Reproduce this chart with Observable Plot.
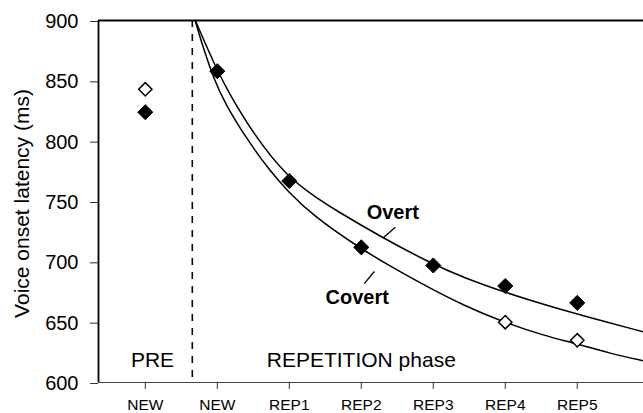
<!DOCTYPE html>
<html>
<head>
<meta charset="utf-8">
<script src="https://cdn.jsdelivr.net/npm/d3@7"></script>
<script src="https://cdn.jsdelivr.net/npm/@observablehq/plot@0.6"></script>
<style>
  html, body { margin: 0; padding: 0; background: #fff; }
  #chart svg { display: block; }
</style>
</head>
<body>
<div id="chart"></div>
<script>
// Block labels along the x axis: the pre-test block, then the repetition phase
const conditions = ["NEW", "NEW", "REP1", "REP2", "REP3", "REP4", "REP5"];

// Mean voice onset latencies (ms) per block
const overtRT = [824, 858, 767, 712, 697, 680, 666];
const covertRT = [843, null, null, null, null, 650, 635];

// Fitted practice curves, sampled along the block axis
const overtFitPos = [0.694, 0.833, 1.014, 1.153, 1.5, 1.972, 2.431, 2.639, 3.264, 3.958, 4.417, 5.028, 5.625, 6.222, 6.917];
const overtFitRT  = [900, 881, 857, 841, 806, 770, 751, 743, 721, 699, 687, 674, 663, 653, 642];
const covertFitPos = [0.694, 0.8, 0.95, 1.1, 1.417, 1.736, 1.972, 2.333, 2.986, 3.5, 3.958, 4.417, 4.972, 5.528, 6.0, 6.458, 6.917];
const covertFitRT  = [900, 878, 852, 832, 801, 775, 759, 738, 711, 693, 678, 664, 650, 639, 632, 624, 618];

// Phase names and y-axis ticks
const phaseNames = ["PRE", "REPETITION phase"];
const yTicks = [600, 650, 700, 750, 800, 850, 900];
const yTitle = "Voice onset latency (ms)";

// Layout / annotation placement (block units on x, ms on y)
const xDomain = [-0.65, 6.92];
const yDomain = [600, 900];
const phaseBoundary = 0.653;
const phaseCenters = [0.1, 3.0];
const curveLabels = [
  {text: "Overt", x: 3.438, y: 741, x1: 3.472, y1: 728.7, x2: 3.306, y2: 720.0},
  {text: "Covert", x: 2.944, y: 670.6, x1: 3.181, y1: 692.0, x2: 3.042, y2: 681.9}
];

const blocks = conditions.map((c, i) => i);
const overtFit = overtFitPos.map((p, i) => ({pos: p, rt: overtFitRT[i]}));
const covertFit = covertFitPos.map((p, i) => ({pos: p, rt: covertFitRT[i]}));

const chart = Plot.plot({
  width: 643,
  height: 413,
  marginLeft: 98,
  marginRight: 0,
  marginTop: 20,
  marginBottom: 31,
  style: {fontFamily: "'Liberation Sans', Arial, Helvetica, sans-serif", background: "#fff", color: "#000"},
  x: {domain: xDomain},
  y: {domain: yDomain},
  marks: [
    // frame lines
    Plot.ruleY([yDomain[1]], {stroke: "#000", strokeWidth: 2}),
    Plot.ruleY([yDomain[0]], {stroke: "#444", strokeWidth: 1.2}),
    Plot.ruleX([xDomain[0]], {stroke: "#000", strokeWidth: 1.8}),
    // boundary between the pre-test and the repetition phase
    Plot.ruleX([phaseBoundary], {stroke: "#000", strokeWidth: 1.6, strokeDasharray: "7,7"}),
    // axes
    Plot.axisY({ticks: yTicks, tickSize: 8, tickPadding: 12, fontSize: 20, dy: 1, label: null, stroke: "#333"}),
    Plot.axisX({ticks: blocks, tickFormat: i => conditions[i], tickSize: 7, tickPadding: 9, fontSize: 15.5, label: null, stroke: "#333"}),
    Plot.text([yTitle], {frameAnchor: "left", rotate: -90, dx: -76, dy: 2, fontSize: 21, textAnchor: "middle"}),
    // phase names
    Plot.text(phaseNames, {x: phaseCenters, frameAnchor: "bottom", dy: -16, fontSize: 21}),
    // fitted curves
    Plot.line(overtFit, {x: "pos", y: "rt", curve: "basis", stroke: "#000", strokeWidth: 1.5}),
    Plot.line(covertFit, {x: "pos", y: "rt", curve: "basis", stroke: "#000", strokeWidth: 1.5}),
    // curve labels with leader ticks
    Plot.link(curveLabels, {x1: "x1", y1: "y1", x2: "x2", y2: "y2", stroke: "#000", strokeWidth: 1.3}),
    Plot.text(curveLabels, {x: "x", y: "y", text: "text", fontSize: 20, fontWeight: "bold"}),
    // observed means: covert (open) and overt (filled)
    Plot.dot(blocks, {x: d => d, y: d => covertRT[d], symbol: "diamond2", r: 6, fill: "#fff", stroke: "#000", strokeWidth: 1.5}),
    Plot.dot(blocks, {x: d => d, y: d => overtRT[d], symbol: "diamond2", r: 6.8, fill: "#000", stroke: "#000", strokeWidth: 1})
  ]
});

document.getElementById("chart").appendChild(chart);
</script>
</body>
</html>
